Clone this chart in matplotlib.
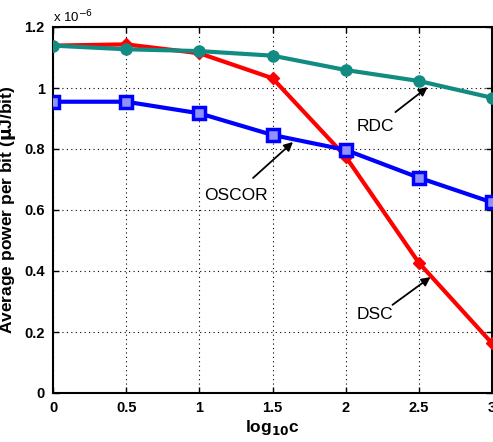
import matplotlib
matplotlib.use("Agg")
import matplotlib.pyplot as plt
import numpy as np

plt.rcParams['font.family'] = ['Liberation Sans', 'DejaVu Sans']

x = [0, 0.5, 1, 1.5, 2, 2.5, 3]
rdc = [1.139, 1.127, 1.121, 1.106, 1.059, 1.023, 0.968]
dsc = [1.139, 1.143, 1.114, 1.032, 0.775, 0.427, 0.163]
oscor = [0.955, 0.955, 0.917, 0.846, 0.797, 0.706, 0.625]
xticks = [0, 0.5, 1, 1.5, 2, 2.5, 3]
xticklabels = ['0', '0.5', '1', '1.5', '2', '2.5', '3']
yticks = [0, 0.2, 0.4, 0.6, 0.8, 1.0, 1.2]
yticklabels = ['0', '0.2', '0.4', '0.6', '0.8', '1', '1.2']

fig = plt.figure(figsize=(4.93, 4.42), dpi=100)
ax = fig.add_axes([53/493, 1-393/442, 439/493, 366/442])

teal = '#128c82'
ax.plot(x, dsc, color='#ff0000', lw=3, marker='D', ms=6, mfc='#ff0000', mec='#ff0000', zorder=3)
ax.plot(x, rdc, color=teal, lw=3, marker='o', ms=8, mfc=teal, mec=teal, zorder=4)
ax.plot(x, oscor, color='#0000ff', lw=3, marker='s', ms=8, mfc='#9090ff', mec='#0000ff', mew=2.5, zorder=3)

ax.set_xlim(0, 3)
ax.set_ylim(0, 1.2)
ax.set_xticks(xticks)
ax.set_xticklabels(xticklabels)
ax.set_yticks(yticks)
ax.set_yticklabels(yticklabels)
ax.tick_params(direction='in', length=4, width=1, labelsize=10.5, pad=6, top=True, right=True)
for lbl in ax.get_xticklabels() + ax.get_yticklabels():
    lbl.set_fontweight('bold')
ax.grid(True, color='black', linestyle=(0, (1, 3)), linewidth=0.8)
for s in ax.spines.values():
    s.set_linewidth(1.5)

ax.set_xlabel('log$_{\\mathbf{10}}$c', fontsize=12.5, fontweight='bold', labelpad=2)
ax.set_ylabel('Average power per bit ($\\mathbf{\\mu}$J/bit)', fontsize=12.5, fontweight='bold', labelpad=4)
ax.text(0.0, 1.005, 'x 10$^{-6}$', transform=ax.transAxes, fontsize=9.5, ha='left', va='bottom')

arrow = dict(arrowstyle='-|>', color='black', lw=1.3, mutation_scale=13, shrinkA=0, shrinkB=0)
ax.text(2.2, 0.875, 'RDC', fontsize=12.5, ha='center', va='center')
ax.annotate('', xy=(2.56, 1.003), xytext=(2.34, 0.921), arrowprops=arrow)
ax.text(1.25, 0.649, 'OSCOR', fontsize=12.5, ha='center', va='center')
ax.annotate('', xy=(1.64, 0.823), xytext=(1.367, 0.705), arrowprops=arrow)
ax.text(2.2, 0.256, 'DSC', fontsize=12.5, ha='center', va='center')
ax.annotate('', xy=(2.58, 0.380), xytext=(2.32, 0.289), arrowprops=arrow)

fig.savefig('out.png', dpi=100)
